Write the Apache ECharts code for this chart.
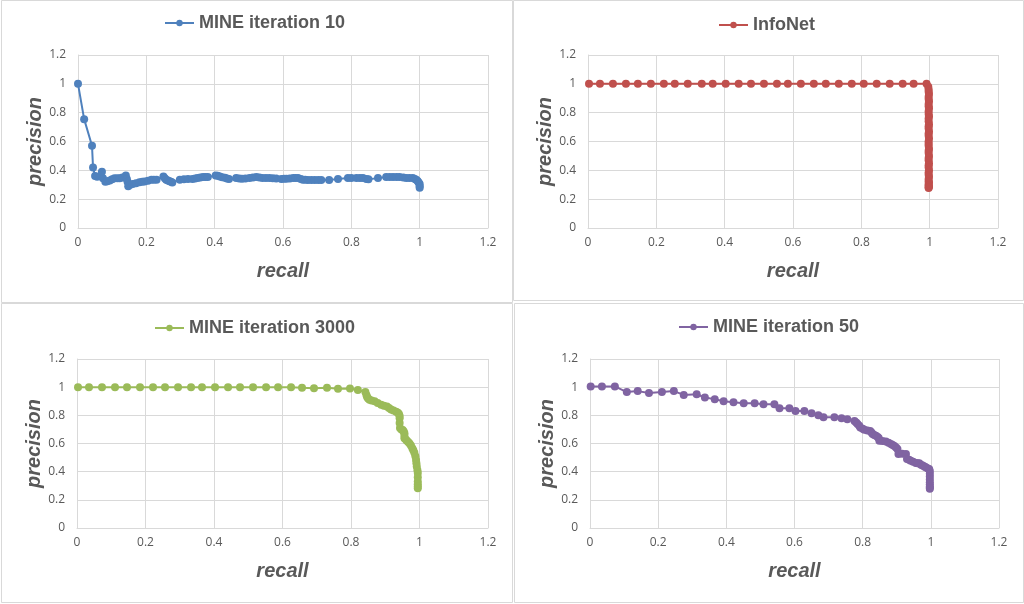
<!DOCTYPE html>
<html>
<head>
<meta charset="utf-8">
<script src="https://cdn.jsdelivr.net/npm/echarts@6/dist/echarts.min.js"></script>
<style>
html,body{margin:0;padding:0;background:#fff;}
#main{width:1024px;height:604px;}
</style>
</head>
<body>
<div id="main"></div>
<script>
// MINE iteration 10 (blue)
var recall10 = [0, 0.018, 0.041, 0.044, 0.05, 0.056, 0.07, 0.073, 0.08, 0.086, 0.093, 0.1, 0.107, 0.115,
	0.122, 0.13, 0.14, 0.143, 0.145, 0.147, 0.153, 0.16, 0.17, 0.18, 0.188, 0.195, 0.205, 0.215, 0.222,
	0.23, 0.25, 0.254, 0.258, 0.263, 0.268, 0.272, 0.276, 0.298, 0.31, 0.322, 0.335, 0.343, 0.35, 0.358,
	0.366, 0.373, 0.38, 0.403, 0.409, 0.415, 0.422, 0.43, 0.436, 0.442, 0.463, 0.472, 0.48, 0.49, 0.502,
	0.512, 0.522, 0.531, 0.54, 0.55, 0.56, 0.57, 0.58, 0.595, 0.603, 0.61, 0.62, 0.63, 0.637, 0.644,
	0.652, 0.658, 0.665, 0.673, 0.683, 0.693, 0.703, 0.712, 0.735, 0.761, 0.79, 0.8, 0.815, 0.825,
	0.834, 0.844, 0.85, 0.878, 0.902, 0.912, 0.922, 0.932, 0.941, 0.952, 0.961, 0.97, 0.98, 0.986,
	0.99, 0.994, 0.997, 1.0, 1.0, 1.0];
var precision10 = [1.0, 0.755, 0.57, 0.42, 0.36, 0.355, 0.39, 0.345, 0.32, 0.325, 0.33, 0.338, 0.345, 0.345,
	0.345, 0.35, 0.365, 0.34, 0.32, 0.29, 0.3, 0.305, 0.31, 0.318, 0.32, 0.322, 0.328, 0.335, 0.335,
	0.335, 0.358, 0.345, 0.335, 0.33, 0.325, 0.32, 0.316, 0.335, 0.338, 0.34, 0.34, 0.343, 0.346, 0.35,
	0.353, 0.353, 0.353, 0.365, 0.362, 0.358, 0.352, 0.348, 0.344, 0.34, 0.346, 0.344, 0.342, 0.344, 0.346,
	0.35, 0.353, 0.35, 0.346, 0.346, 0.346, 0.345, 0.344, 0.34, 0.341, 0.342, 0.344, 0.346, 0.346, 0.346,
	0.34, 0.335, 0.334, 0.333, 0.333, 0.333, 0.333, 0.333, 0.333, 0.34, 0.346, 0.346, 0.346, 0.346,
	0.346, 0.34, 0.338, 0.346, 0.353, 0.353, 0.353, 0.353, 0.353, 0.35, 0.346, 0.346, 0.346, 0.34,
	0.335, 0.326, 0.316, 0.305, 0.29, 0.28];

// InfoNet (red)
var recallInfo = [0.003, 0.035, 0.073, 0.111, 0.146, 0.184, 0.222, 0.254, 0.292, 0.333, 0.365, 0.403,
	0.441, 0.477, 0.515, 0.553, 0.585, 0.623, 0.661, 0.696, 0.734, 0.772, 0.807, 0.845, 0.883, 0.921,
	0.953, 0.991, 0.996, 0.997, 0.997, 0.998, 0.997, 0.997, 0.998, 0.997, 0.997, 0.998, 0.997, 0.997,
	0.998, 0.997, 0.997, 0.998, 0.997, 0.997, 0.998, 0.997, 0.997, 0.998, 0.997, 0.997, 0.997, 0.998,
	0.997, 0.997, 0.998, 0.997, 0.997, 0.998, 0.997, 0.997, 0.998, 0.997, 0.997, 0.998, 0.997, 0.997,
	0.998, 0.997, 0.997, 0.998, 0.997, 0.997];
var precisionInfo = [1, 1, 1, 1, 1, 1, 1, 1, 1, 1, 1, 1,
	1, 1, 1, 1, 1, 1, 1, 1, 1, 1, 1, 1, 1, 1,
	1, 1, 0.98, 0.96, 0.945, 0.93, 0.91, 0.895, 0.88, 0.86, 0.845, 0.83, 0.81, 0.79,
	0.775, 0.76, 0.74, 0.72, 0.705, 0.69, 0.67, 0.655, 0.64, 0.62, 0.6, 0.585, 0.57, 0.55,
	0.535, 0.52, 0.5, 0.485, 0.47, 0.45, 0.435, 0.42, 0.4, 0.385, 0.37, 0.355, 0.34, 0.325,
	0.315, 0.305, 0.295, 0.288, 0.282, 0.278];

// MINE iteration 3000 (green)
var recall3000 = [0.003, 0.035, 0.073, 0.111, 0.146, 0.184, 0.222, 0.257, 0.295, 0.333, 0.365, 0.403,
	0.441, 0.476, 0.514, 0.552, 0.587, 0.625, 0.657, 0.692, 0.73, 0.762, 0.797, 0.82, 0.842, 0.845, 0.847,
	0.85, 0.854, 0.86, 0.869, 0.878, 0.888, 0.896, 0.905, 0.911, 0.917, 0.924, 0.932, 0.937, 0.94, 0.942,
	0.942, 0.942, 0.943, 0.947, 0.951, 0.954, 0.956, 0.956, 0.956, 0.96, 0.963, 0.967, 0.971, 0.975,
	0.979, 0.982, 0.985, 0.988, 0.99, 0.991, 0.992, 0.994, 0.995, 0.995, 0.995, 0.995, 0.995, 0.995];
var precision3000 = [1, 1, 1, 1, 1, 1, 1, 1, 1, 1, 1, 1,
	1, 1, 1, 1, 1, 1, 0.995, 0.993, 0.995, 0.988, 0.99, 0.98, 0.965, 0.945, 0.93,
	0.92, 0.91, 0.905, 0.9, 0.888, 0.875, 0.868, 0.862, 0.852, 0.842, 0.834, 0.825, 0.818, 0.81, 0.795,
	0.78, 0.745, 0.71, 0.7, 0.695, 0.685, 0.672, 0.655, 0.637, 0.628, 0.62, 0.61, 0.6, 0.585,
	0.566, 0.552, 0.535, 0.51, 0.483, 0.46, 0.436, 0.41, 0.39, 0.36, 0.33, 0.31, 0.295, 0.283];

// MINE iteration 50 (purple)
var recall50 = [0.002, 0.035, 0.073, 0.108, 0.14, 0.173, 0.211, 0.246, 0.275, 0.313, 0.337, 0.366,
	0.392, 0.421, 0.451, 0.483, 0.509, 0.541, 0.556, 0.585, 0.603, 0.629, 0.65, 0.67, 0.685, 0.717,
	0.738, 0.755, 0.776, 0.781, 0.785, 0.79, 0.793, 0.8, 0.805, 0.814, 0.822, 0.826, 0.829, 0.834, 0.839,
	0.844, 0.847, 0.849, 0.858, 0.868, 0.876, 0.883, 0.888, 0.893, 0.898, 0.902, 0.905, 0.916, 0.927,
	0.93, 0.936, 0.941, 0.948, 0.956, 0.961, 0.966, 0.971, 0.976, 0.981, 0.985, 0.99, 0.995, 0.997,
	0.997, 0.997, 0.997, 0.997, 0.997, 0.997, 0.997, 0.997];
var precision50 = [1.005, 1.005, 1.005, 0.965, 0.972, 0.958, 0.965, 0.972, 0.945, 0.95, 0.927, 0.915,
	0.9, 0.893, 0.886, 0.886, 0.879, 0.879, 0.851, 0.851, 0.83, 0.83, 0.815, 0.801, 0.787, 0.787,
	0.78, 0.773, 0.759, 0.75, 0.738, 0.726, 0.714, 0.705, 0.698, 0.693, 0.688, 0.678, 0.667, 0.66, 0.655,
	0.647, 0.639, 0.62, 0.618, 0.615, 0.605, 0.596, 0.59, 0.582, 0.572, 0.561, 0.525, 0.528, 0.525,
	0.49, 0.485, 0.478, 0.47, 0.462, 0.46, 0.459, 0.45, 0.443, 0.437, 0.431, 0.425, 0.419, 0.405,
	0.385, 0.365, 0.345, 0.325, 0.31, 0.295, 0.285, 0.278];

var axisTicks = ['0', '0.2', '0.4', '0.6', '0.8', '1', '1.2'];

var textColor = '#595959';
var gridColor = '#d9d9d9';

function zip(xs, ys) {
	var out = [];
	for (var i = 0; i < xs.length; i++) out.push([xs[i], ys[i]]);
	return out;
}

var panels = [
	{ name: 'MINE iteration 10', color: '#4f81bd', x: recall10, y: precision10,
		grid: { left: 78, top: 55, width: 410, height: 173 }, legend: { left: 164, top: 14 } },
	{ name: 'InfoNet', color: '#c0504d', x: recallInfo, y: precisionInfo,
		grid: { left: 588, top: 55, width: 410, height: 173 }, legend: { left: 718, top: 16 } },
	{ name: 'MINE iteration 3000', color: '#9bbb59', x: recall3000, y: precision3000,
		grid: { left: 77, top: 359, width: 411, height: 169 }, legend: { left: 154, top: 319 } },
	{ name: 'MINE iteration 50', color: '#8064a2', x: recall50, y: precision50,
		grid: { left: 590, top: 359, width: 409, height: 169 }, legend: { left: 678, top: 318 } }
];

var grids = [], xAxes = [], yAxes = [], legends = [], series = [];
panels.forEach(function (p, i) {
	grids.push(p.grid);
	xAxes.push({
		type: 'value', gridIndex: i, min: 0, max: 1.2, interval: 0.2,
		name: 'recall', nameLocation: 'middle', nameGap: 33,
		nameTextStyle: { fontFamily: 'Liberation Sans', fontSize: 20, fontWeight: 'bold', fontStyle: 'italic', color: textColor },
		axisLine: { lineStyle: { color: gridColor } },
		axisTick: { show: false },
		axisLabel: { color: textColor, fontSize: 12, fontFamily: 'Open Sans', margin: 9,
			formatter: function (v) { return axisTicks[Math.round(v / 0.2)]; } },
		splitLine: { lineStyle: { color: gridColor } }
	});
	yAxes.push({
		type: 'value', gridIndex: i, min: 0, max: 1.2, interval: 0.2,
		name: 'precision', nameLocation: 'middle', nameGap: 32,
		nameTextStyle: { fontFamily: 'Liberation Sans', fontSize: 20, fontWeight: 'bold', fontStyle: 'italic', color: textColor },
		axisLine: { show: true, lineStyle: { color: gridColor } },
		axisTick: { show: false },
		axisLabel: { color: textColor, fontSize: 12, fontFamily: 'Open Sans', margin: 12,
			formatter: function (v) { return axisTicks[Math.round(v / 0.2)]; } },
		splitLine: { lineStyle: { color: gridColor } }
	});
	legends.push({
		data: [p.name], left: p.legend.left, top: p.legend.top, padding: 0,
		itemWidth: 29, itemHeight: 8, itemGap: 4,
		textStyle: { fontFamily: 'Liberation Sans', fontSize: 18, fontWeight: 'bold', color: textColor }
	});
	series.push({
		name: p.name, type: 'line', xAxisIndex: i, yAxisIndex: i,
		data: zip(p.x, p.y),
		symbol: 'circle', symbolSize: 8, showSymbol: true,
		lineStyle: { width: 2, color: p.color },
		itemStyle: { color: p.color },
		animation: false
	});
});

// panel frames
var frames = [
	[1, 0, 511, 302], [513, 0, 510, 300], [1, 303, 511, 299], [514, 303, 509, 299]
].map(function (r) {
	return { type: 'rect', shape: { x: r[0] + 0.5, y: r[1] + 0.5, width: r[2], height: r[3] },
		style: { fill: 'none', stroke: gridColor, lineWidth: 1 }, silent: true };
});

var chart = echarts.init(document.getElementById('main'));
chart.setOption({
	animation: false,
	backgroundColor: '#fff',
	graphic: frames,
	grid: grids,
	xAxis: xAxes,
	yAxis: yAxes,
	legend: legends,
	series: series
});
</script>
</body>
</html>
